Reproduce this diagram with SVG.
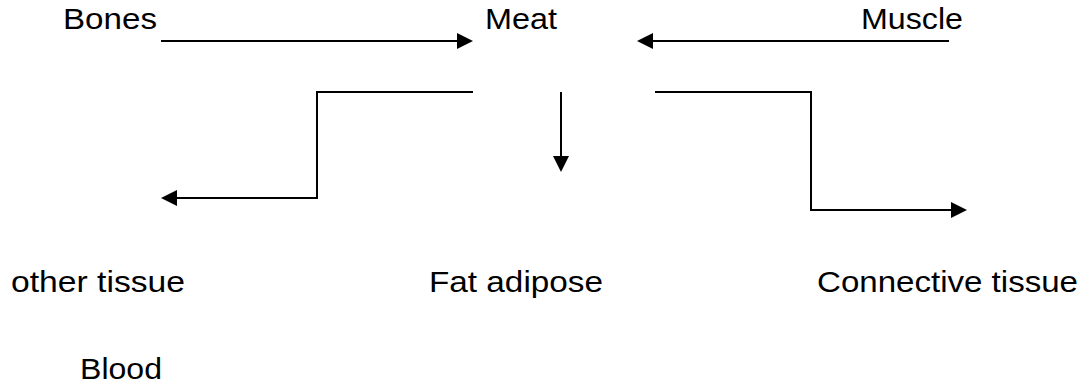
<svg xmlns="http://www.w3.org/2000/svg" width="1089" height="390" viewBox="0 0 1089 390">
  <style>
    .lbl { font-family: "Liberation Sans", Arial, sans-serif; font-size: 30px; fill: #000; }
    .conn { fill: none; stroke: #000; stroke-width: 2; }
  </style>
  <defs>
    <marker id="ah" markerUnits="userSpaceOnUse" markerWidth="16" markerHeight="16" refX="0" refY="8" orient="auto">
      <path d="M0,0 L16,8 L0,16 Z" fill="#000"/>
    </marker>
  </defs>
  <rect width="1089" height="390" fill="#fff"/>
  <g id="connectors">
    <path class="conn" d="M161,41 L457,41" marker-end="url(#ah)"/>
    <path class="conn" d="M949,41 L653,41" marker-end="url(#ah)"/>
    <path class="conn" d="M473,92 L317,92 L317,198 L177,198" marker-end="url(#ah)"/>
    <path class="conn" d="M561,92 L561,156" marker-end="url(#ah)"/>
    <path class="conn" d="M655,92 L811,92 L811,210 L951,210" marker-end="url(#ah)"/>
  </g>
  <g id="bones"><text class="lbl" x="63" y="29" textLength="94" lengthAdjust="spacingAndGlyphs">Bones</text></g>
  <g id="meat"><text class="lbl" x="485" y="29" textLength="72" lengthAdjust="spacingAndGlyphs">Meat</text></g>
  <g id="muscle"><text class="lbl" x="861" y="29" textLength="102" lengthAdjust="spacingAndGlyphs">Muscle</text></g>
  <g id="other-tissue"><text class="lbl" x="11" y="292" textLength="174" lengthAdjust="spacingAndGlyphs">other tissue</text></g>
  <g id="fat-adipose"><text class="lbl" x="429" y="292" textLength="174" lengthAdjust="spacingAndGlyphs">Fat adipose</text></g>
  <g id="connective-tissue"><text class="lbl" x="817" y="292" textLength="261" lengthAdjust="spacingAndGlyphs">Connective tissue</text></g>
  <g id="blood"><text class="lbl" x="80" y="379" textLength="82" lengthAdjust="spacingAndGlyphs">Blood</text></g>
</svg>
